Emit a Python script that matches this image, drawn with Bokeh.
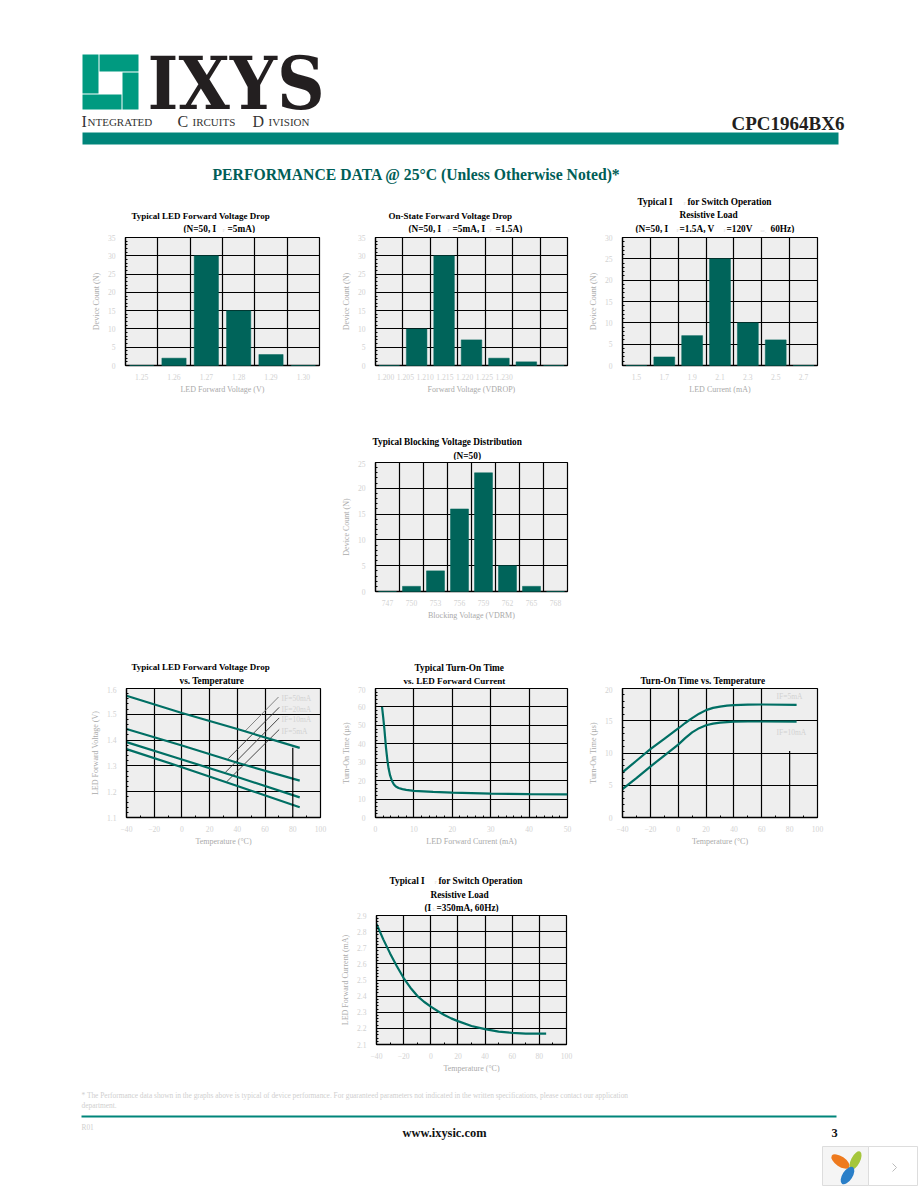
from bokeh.plotting import figure
from bokeh.layouts import column, row
from bokeh.models import Range1d, Label, FixedTicker, Spacer
from bokeh.embed import file_html
from bokeh.resources import INLINE
import numpy as np

SERIF = "Liberation Serif"
TEAL = "#00645A"
LINE = "#006F64"
BAND = "#00857A"
LOGO = "#009A80"
TICK = "#d2d2d2"
AXL = "#aaaaaa"
SUBC = "#d8d8d8"
WIDTH = 918

# ---- data ----
c1_labels = ["1.25", "1.26", "1.27", "1.28", "1.29", "1.30"]
c1_values = [0, 2, 30, 15, 3, 0]
c2_labels = ["1.200", "1.205", "1.210", "1.215", "1.220", "1.225", "1.230"]
c2_values = [0, 10, 30, 7, 2, 1, 0]
c3_labels = ["1.5", "1.7", "1.9", "2.1", "2.3", "2.5", "2.7"]
c3_values = [0, 2, 7, 25, 10, 6, 0]
c4_labels = ["747", "750", "753", "756", "759", "762", "765", "768"]
c4_values = [0, 1, 4, 16, 23, 5, 1, 0]

vf_temp = [-40, 0, 40, 85]
vf_50 = [1.572, 1.505, 1.443, 1.37]
vf_20 = [1.443, 1.379, 1.312, 1.243]
vf_10 = [1.392, 1.325, 1.257, 1.178]
vf_5 = [1.365, 1.295, 1.222, 1.14]
vf_leaders_x = [[45.6, 69.7], [33.4, 70.2], [31.2, 70.2], [32.2, 70.2]]
vf_leaders_y = [[1.435, 1.567], [1.328, 1.527], [1.274, 1.486], [1.238, 1.441]]
vf_leader_colors = ["#777777", "#333333", "#333333", "#333333"]

ton_if = [1.7, 2.0, 2.3, 2.75, 3.1, 3.4, 3.8, 4.3, 4.8, 5.3, 6, 7, 8, 10, 15, 20, 30, 40, 50]
ton_t = [60, 54.5, 48.3, 37.5, 31, 26.7, 22.8, 19.8, 17.9, 16.8, 16, 15.4, 15, 14.4, 13.9, 13.5, 13, 12.7, 12.5]

tt_temp = [-40, -30, -20, -10, 0, 5, 10, 15, 20, 25, 30, 35, 40, 50, 60, 85]
tt_5 = [7.0, 8.8, 10.6, 12.2, 13.8, 14.65, 15.4, 16.1, 16.65, 17.0, 17.2, 17.35, 17.42, 17.5, 17.52, 17.47]
tt_10 = [4.4, 6.1, 7.9, 9.6, 11.3, 12.3, 13.2, 13.85, 14.3, 14.55, 14.72, 14.8, 14.85, 14.88, 14.88, 14.87]

if_temp = [-40, -35, -30, -25, -20, -15, -10, -5, 0, 5, 10, 15, 20, 30, 40, 50, 60, 70, 85]
if_val = [2.848, 2.752, 2.665, 2.585, 2.512, 2.452, 2.402, 2.365, 2.335, 2.308, 2.283, 2.262, 2.245, 2.215, 2.195, 2.18, 2.172, 2.168, 2.168]


def base(left, right, top, bottom, fx0, fx1, fy0, fy1, xr, yr):
    """A figure occupying page box left..right / top..bottom, frame at fx0..fx1 / fy0..fy1."""
    return figure(width=right - left, height=bottom - top,
                  x_range=Range1d(*xr), y_range=Range1d(*yr),
                  output_backend="svg", toolbar_location=None,
                  min_border_left=fx0 - left, min_border_right=right - fx1,
                  min_border_top=fy0 - top, min_border_bottom=bottom - fy1,
                  background_fill_color="#EEEEEE", border_fill_color="white",
                  outline_line_color="black", outline_line_width=1.2)


def style_axes(p, yticks, yminor, ylabel, xlabel):
    ya, xa = p.yaxis[0], p.xaxis[0]
    ya.ticker = FixedTicker(ticks=yticks, minor_ticks=yminor)
    for a in (ya, xa):
        a.axis_line_color = "black"
        a.axis_line_width = 1.3
        a.major_tick_out = 0
        a.major_tick_in = 0
        a.minor_tick_out = 0
        a.minor_tick_line_color = "black"
        a.major_label_text_font = SERIF
        a.major_label_text_font_size = "7.6px"
        a.major_label_text_color = TICK
        a.axis_label_text_font = SERIF
        a.axis_label_text_font_style = "normal"
        a.axis_label_text_font_size = "8px"
        a.axis_label_text_color = AXL
    ya.axis_label = ylabel
    xa.axis_label = xlabel
    ya.minor_tick_in = 2
    ya.major_label_standoff = 10
    xa.major_label_standoff = 8
    ya.axis_label_standoff = 4
    xa.axis_label_standoff = 2
    p.ygrid.ticker = FixedTicker(ticks=yticks[1:-1])
    for g in (p.xgrid[0], p.ygrid[0]):
        g.grid_line_color = "black"
        g.grid_line_width = 1.2


def bar_chart(labels, values, ymax, yticks, box, frame, tick_pos, ylabel, xlabel):
    left, right, top, bottom = box
    fx0, fx1, fy0, fy1 = frame
    n = len(labels)
    p = base(left, right, top, bottom, fx0, fx1, fy0, fy1, (0, n), (0, ymax))
    style_axes(p, yticks, [float(v) for v in np.arange(0, ymax + 1)], ylabel, xlabel)
    xa = p.xaxis[0]
    xa.ticker = FixedTicker(ticks=tick_pos)
    xa.major_label_overrides = {t: l for t, l in zip(tick_pos, labels)}
    xa.minor_tick_in = 0
    p.xgrid[0].ticker = FixedTicker(ticks=list(range(1, n)))
    xs = [i + 0.5 for i in range(n)]
    p.vbar(x=xs, top=values, width=0.75, bottom=0, fill_color=TEAL, line_color=TEAL, line_width=0.5, level="overlay")
    return p


def line_chart(xr, yr, xticks, xminor, yticks, yminor, box, frame, ylabel, xlabel, hidden_x=None):
    left, right, top, bottom = box
    fx0, fx1, fy0, fy1 = frame
    p = base(left, right, top, bottom, fx0, fx1, fy0, fy1, xr, yr)
    style_axes(p, yticks, yminor, ylabel, xlabel)
    xa = p.xaxis[0]
    xa.ticker = FixedTicker(ticks=xticks, minor_ticks=xminor)
    xa.minor_tick_in = 2
    p.xgrid[0].ticker = FixedTicker(ticks=[t for t in xticks[1:-1] if t != hidden_x])
    return p


def frame_label(p, frame, text, px, py, size=7.5):
    fx0, fy1 = frame
    p.add_layout(Label(x=px - fx0, y=fy1 - py, x_units="screen", y_units="screen", text=text,
                       text_font=SERIF, text_font_size=f"{size}px", text_color=TICK, text_baseline="middle"))


# ---- row 1 ----
R1T, R1B = 233, 410
R2T = 460
R3T = 686
c1 = bar_chart(c1_labels, c1_values, 35, list(range(0, 36, 5)), (0, 338, R1T, R1B), (125, 319, 236, 365),
               [i + 0.5 for i in range(6)], "Device Count (N)", "LED Forward Voltage (V)")
c2 = bar_chart(c2_labels, c2_values, 35, list(range(0, 36, 5)), (338, 585, R1T, R1B), (373, 567, 236, 365),
               [round(0.37 + 0.72 * i, 2) for i in range(7)], "Device Count (N)", "Forward Voltage (VDROP)")
c3 = bar_chart(c3_labels, c3_values, 30, list(range(0, 31, 5)), (585, WIDTH, R1T, R1B), (622, 817, 237, 366),
               [i + 0.5 for i in range(7)], "Device Count (N)", "LED Current (mA)")

# ---- row 2 ----
c4 = bar_chart(c4_labels, c4_values, 25, list(range(0, 26, 5)), (338, 585, R2T, 640), (373, 567, 462, 591),
               [i + 0.5 for i in range(8)], "Device Count (N)", "Blocking Voltage (VDRM)")

# ---- row 3 ----
c5 = line_chart((-40, 100), (1.1, 1.6), list(range(-40, 101, 20)), list(range(-40, 101, 10)),
                [1.1, 1.2, 1.3, 1.4, 1.5, 1.6], [round(1.1 + 0.02 * i, 2) for i in range(26)],
                (0, 338, R3T, 860), (126, 320, 688, 817), "LED Forward Voltage (V)", "Temperature (°C)", hidden_x=80)
for xs, ys, col in zip(vf_leaders_x, vf_leaders_y, vf_leader_colors):
    c5.line(xs, ys, line_color=col, line_width=0.9)
for ys in (vf_50, vf_20, vf_10, vf_5):
    c5.line(vf_temp, ys, line_color=LINE, line_width=2.2)
c5.line([80, 80], [1.1, 1.37], line_color="black", line_width=1.2)
for txt, y in [("IF=50mA", 698), ("IF=20mA", 709), ("IF=10mA", 719), ("IF=5mA", 731)]:
    frame_label(c5, (126, 817), txt, 281, y)

c6 = line_chart((0, 50), (0, 70), list(range(0, 51, 10)), [float(v) for v in range(0, 51, 2)],
                list(range(0, 71, 10)), list(range(0, 71, 2)),
                (338, 585, R3T, 860), (373, 567, 688, 818), "Turn-On Time (µs)", "LED Forward Current (mA)")
c6.line(ton_if, ton_t, line_color=LINE, line_width=2.2)

c7 = line_chart((-40, 100), (0, 20), list(range(-40, 101, 20)), list(range(-40, 101, 10)),
                list(range(0, 21, 5)), list(range(0, 21, 1)),
                (585, WIDTH, R3T, 860), (622, 817, 688, 818), "Turn-On Time (µs)", "Temperature (°C)", hidden_x=80)
c7.line(tt_temp, tt_5, line_color=LINE, line_width=2.2)
c7.line(tt_temp, tt_10, line_color=LINE, line_width=2.2)
c7.line([80, 80], [0, 10.3], line_color="black", line_width=1.2)
frame_label(c7, (622, 818), "IF=5mA", 776, 697)
frame_label(c7, (622, 818), "IF=10mA", 776, 733)

# ---- row 4 ----
c8 = line_chart((-40, 100), (2.1, 2.9), list(range(-40, 101, 20)), list(range(-40, 101, 10)),
                [round(2.1 + 0.1 * i, 1) for i in range(9)], [round(2.1 + 0.02 * i, 2) for i in range(41)],
                (338, 585, 912, 1085), (373, 566, 915, 1044), "LED Forward Current (mA)", "Temperature (°C)")
c8.line(if_temp, if_val, line_color=LINE, line_width=2.2)


def canvas(top, bottom):
    p = figure(width=WIDTH, height=bottom - top, x_range=Range1d(0, WIDTH), y_range=Range1d(bottom, top),
               output_backend="svg", toolbar_location=None, min_border=0,
               background_fill_color="white", border_fill_color="white", outline_line_color=None)
    p.axis.visible = False
    p.grid.visible = False
    return p


def put(p, text, x, y, size=9.3, bold=True, color="black", font=SERIF, align="left"):
    p.add_layout(Label(x=x, y=y, text=text, text_font=font, text_font_size=f"{size}px",
                       text_font_style="bold" if bold else "normal", text_color=color,
                       text_align=align, text_baseline="middle"))


def sub(p, text, x, y):
    put(p, text, x, y + 2, size=5, bold=False, color=SUBC)


# ---- header and titles of row 1 ----
head = canvas(0, R1T)
head.quad(left=[82, 99, 122, 82], right=[98, 138, 138, 121], top=[54, 54, 72, 94], bottom=[93, 71, 109, 109],
          fill_color=LOGO, line_color=None)
head.quad(left=[82], right=[838], top=[132], bottom=[144], fill_color=BAND, line_color=None)
put(head, "IXYS", 147, 82, 73.5, color="#231F20", font="DejaVu Serif Condensed")
for t, x, s in [("I", 81, 16), ("NTEGRATED", 87, 11), ("C", 177, 16), ("IRCUITS", 192, 11), ("D", 252, 16), ("IVISION", 268, 11)]:
    put(head, t, x, 121, s, bold=False, color="#333333")
put(head, "CPC1964BX6", 731, 123, 19, color="#231F20")
put(head, "PERFORMANCE DATA @ 25°C (Unless Otherwise Noted)*", 212, 174, 15.7, color="#005E57")

put(head, "Typical LED Forward Voltage Drop", 131, 215, 9)
put(head, "(N=50, I", 183, 228); sub(head, "F", 222, 228); put(head, "=5mA)", 227, 228)
put(head, "On-State Forward Voltage Drop", 388, 215, 9)
put(head, "(N=50, I", 408, 228); sub(head, "F", 447, 228); put(head, "=5mA, I", 452, 228)
sub(head, "F", 489, 228); put(head, "=1.5A)", 495, 228)
put(head, "Typical I", 637, 201); sub(head, "F", 683, 201); put(head, "for Switch Operation", 687, 201)
put(head, "Resistive Load", 679, 214)
put(head, "(N=50, I", 635, 228); sub(head, "F", 676, 228); put(head, "=1.5A, V", 679, 228)
sub(head, "F", 723, 228); put(head, "=120V", 726, 228); sub(head, "ac,", 760, 228); put(head, "60Hz)", 770, 228)

# ---- titles of chart 4 ----
s2 = canvas(R1B, R2T)
put(s2, "Typical Blocking Voltage Distribution", 372, 441.5)
put(s2, "(N=50)", 453, 455)

# ---- titles of row 3 ----
s3 = canvas(640, R3T)
put(s3, "Typical LED Forward Voltage Drop", 131, 666, 9)
put(s3, "vs. Temperature", 179, 680.5)
put(s3, "Typical Turn-On Time", 414, 667)
put(s3, "vs. LED Forward Current", 403, 680.5, 9.1)
put(s3, "Turn-On Time vs. Temperature", 640, 680)

# ---- titles of chart 8 ----
s4 = canvas(860, 912)
put(s4, "Typical I", 389, 880); sub(s4, "F", 434, 880); put(s4, "for Switch Operation", 438, 880)
put(s4, "Resistive Load", 430, 894)
put(s4, "(I", 424, 907); sub(s4, "L", 432, 907); put(s4, "=350mA, 60Hz)", 436, 907)

# ---- footer ----
foot = canvas(1085, 1188)
foot.quad(left=[81], right=[836], top=[1115], bottom=[1117], fill_color=BAND, line_color=None)
GR = "#cfcfcf"
put(foot, "* The Performance data shown in the graphs above is typical of device performance.  For guaranteed parameters not indicated in the written specifications, please contact our application", 81, 1095, 7.4, bold=False, color=GR)
put(foot, "department.", 81, 1105, 7.4, bold=False, color=GR)
put(foot, "R01", 81, 1127, 7.4, bold=False, color=GR)
put(foot, "www.ixysic.com", 402, 1132, 12.4, color="#111111")
put(foot, "3", 831, 1132, 12.4, color="#111111")
# viewer widget in the corner
foot.quad(left=[822, 868], right=[868, 917], top=[1146, 1146], bottom=[1185, 1185],
          fill_color=["#F5F5F5", "white"], line_color="#DDDDDD", line_width=1)
foot.ellipse(x=[840, 855, 847], y=[1161, 1160, 1175], width=[21, 20, 20], height=[10, 9, 10],
             angle=[-0.6, 1.1, 1.0], fill_color=["#EE7A1E", "#A5C63B", "#2A7FC8"], line_color=None)
foot.line([892, 896, 892], [1163, 1167, 1171], line_color="#BBBBBB", line_width=1)

page = column(
    head,
    row(c1, c2, c3, spacing=0),
    s2,
    row(Spacer(width=338, height=640 - R2T), c4, spacing=0),
    s3,
    row(c5, c6, c7, spacing=0),
    s4,
    row(Spacer(width=338, height=173), c8, spacing=0),
    foot,
    spacing=0,
)
open("out.html", "w").write(file_html(page, INLINE))
